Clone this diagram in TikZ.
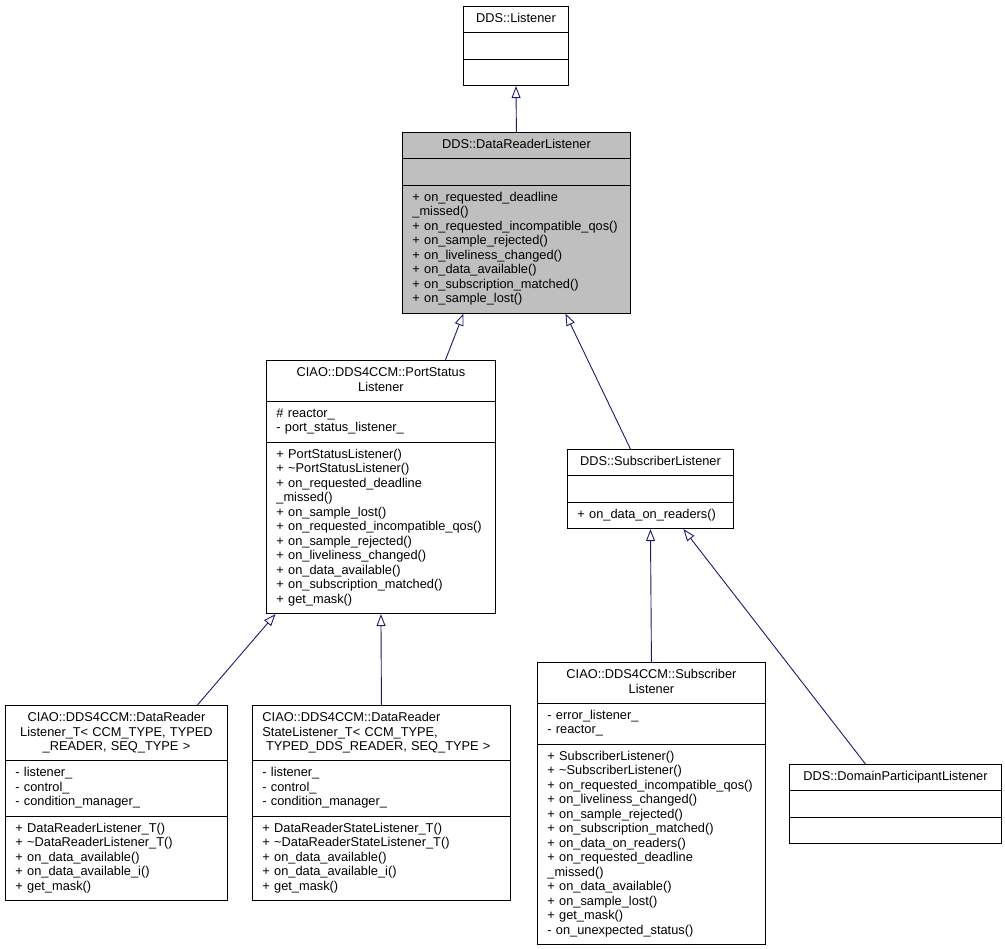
\documentclass[tikz,border=0pt]{standalone}
\usepackage{fontspec}
\setmainfont{Liberation Sans}
\usepackage{tikz}
\usetikzlibrary{arrows.meta,shapes.multipart}
\definecolor{edgeblue}{HTML}{191970}
\newcommand{\cpart}[1]{\strut#1\strut}
\newcommand{\ctitle}[1]{{\centering\parindent=0pt\let\\\par\strut#1\strut\par}}

\begin{document}
\begin{tikzpicture}[
  x=1pt, y=-1pt,
  cls/.style={draw, line width=0.9pt, rectangle split, rectangle split parts=3,
              anchor=north west, inner xsep=10pt, inner ysep=5.5pt, align=left,
              font=\fontsize{12.8}{14.5}\selectfont},
  base/.style={cls, fill=black!25},
  inh/.style={draw=edgeblue, line width=0.9pt, -{Triangle[open, length=12pt, width=9pt]}},
]
\useasboundingbox (0,0) rectangle (1005,949);

% Row 1: root
\node[cls, text width=85pt] (lst) at (463,6)
  {\ctitle{DDS::Listener}
   \nodepart{two}\cpart{}
   \nodepart{three}\cpart{}};

% Row 2: highlighted class
\node[base, text width=208pt] (drl) at (402,132)
  {\ctitle{DDS::DataReaderListener}
   \nodepart{two}\cpart{}
   \nodepart{three}\cpart{+ on\_requested\_deadline\\\_missed()\\+ on\_requested\_incompatible\_qos()\\+ on\_sample\_rejected()\\+ on\_liveliness\_changed()\\+ on\_data\_available()\\+ on\_subscription\_matched()\\+ on\_sample\_lost()}};

% Row 3: derived listeners
\node[cls, text width=209pt] (ps) at (266,360)
  {\ctitle{CIAO::DDS4CCM::PortStatus\\Listener}
   \nodepart{two}\cpart{\# reactor\_\\- port\_status\_listener\_}
   \nodepart{three}\cpart{+ PortStatusListener()\\+ \textasciitilde PortStatusListener()\\+ on\_requested\_deadline\\\_missed()\\+ on\_sample\_lost()\\+ on\_requested\_incompatible\_qos()\\+ on\_sample\_rejected()\\+ on\_liveliness\_changed()\\+ on\_data\_available()\\+ on\_subscription\_matched()\\+ get\_mask()}};
\node[cls, text width=146pt] (sub) at (567,449)
  {\ctitle{DDS::SubscriberListener}
   \nodepart{two}\cpart{}
   \nodepart{three}\cpart{+ on\_data\_on\_readers()}};

% Row 4: leaves
\node[cls, text width=202pt] (drlt) at (5,705)
  {\ctitle{CIAO::DDS4CCM::DataReader\\Listener\_T< CCM\_TYPE, TYPED\\\_READER, SEQ\_TYPE >}
   \nodepart{two}\cpart{- listener\_\\- control\_\\- condition\_manager\_}
   \nodepart{three}\cpart{+ DataReaderListener\_T()\\+ \textasciitilde DataReaderListener\_T()\\+ on\_data\_available()\\+ on\_data\_available\_i()\\+ get\_mask()}};
\node[cls, text width=238pt] (drst) at (252,705)
  {\cpart{CIAO::DDS4CCM::DataReader\\StateListener\_T< CCM\_TYPE,\\\hspace*{3.6pt}TYPED\_DDS\_READER, SEQ\_TYPE >}
   \nodepart{two}\cpart{- listener\_\\- control\_\\- condition\_manager\_}
   \nodepart{three}\cpart{+ DataReaderStateListener\_T()\\+ \textasciitilde DataReaderStateListener\_T()\\+ on\_data\_available()\\+ on\_data\_available\_i()\\+ get\_mask()}};
\node[cls, text width=208pt] (csub) at (537,662)
  {\ctitle{CIAO::DDS4CCM::Subscriber\\Listener}
   \nodepart{two}\cpart{- error\_listener\_\\- reactor\_}
   \nodepart{three}\cpart{+ SubscriberListener()\\+ \textasciitilde SubscriberListener()\\+ on\_requested\_incompatible\_qos()\\+ on\_liveliness\_changed()\\+ on\_sample\_rejected()\\+ on\_subscription\_matched()\\+ on\_data\_on\_readers()\\+ on\_requested\_deadline\\\_missed()\\+ on\_data\_available()\\+ on\_sample\_lost()\\+ get\_mask()\\- on\_unexpected\_status()}};
\node[cls, text width=192pt] (dpl) at (789,764)
  {\ctitle{DDS::DomainParticipantListener}
   \nodepart{two}\cpart{}
   \nodepart{three}\cpart{}};

% Inheritance arrows
\draw[inh] (drl.north) -- (lst.south);
\draw[inh] ([xshift=64.5pt]ps.north) -- ([xshift=-53pt]drl.south);
\draw[inh] ([xshift=-20pt]sub.north) -- ([xshift=49pt]drl.south);
\draw[inh] ([xshift=81pt]drlt.north) -- ([xshift=-105.5pt]ps.south);
\draw[inh] (drst.north) -- (ps.south);
\draw[inh] (csub.north) -- (sub.south);
\draw[inh] ([xshift=-30pt]dpl.north) -- ([xshift=33pt]sub.south);
\end{tikzpicture}
\end{document}
